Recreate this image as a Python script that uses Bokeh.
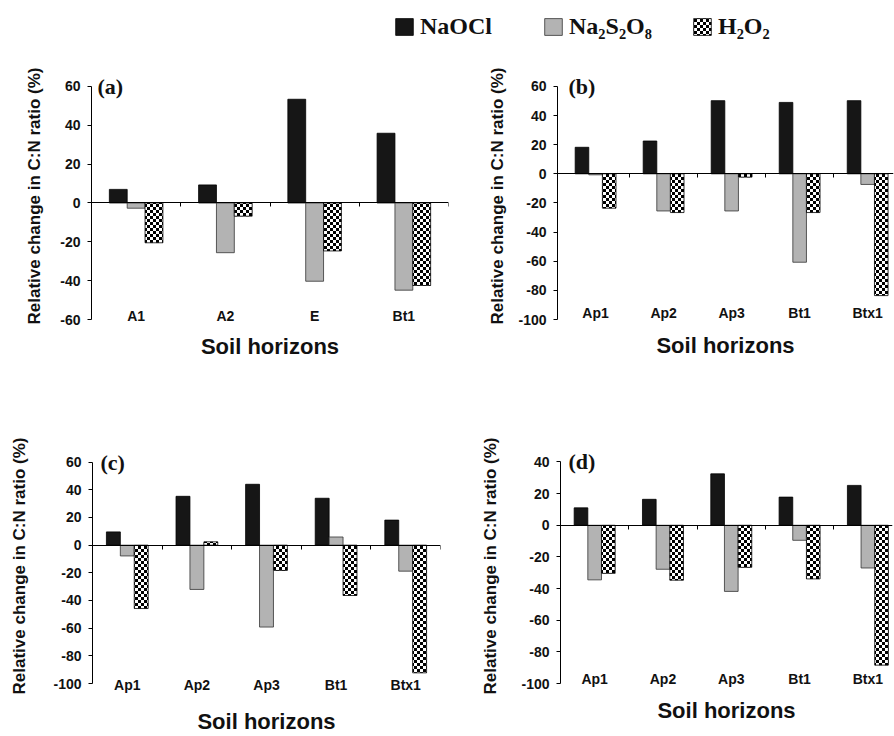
from bokeh.plotting import figure
from bokeh.models import (ColumnDataSource, Range1d, FixedTicker, CustomJSTickFormatter, LinearAxis,
                          Label, Legend, LegendItem, CanvasTexture)
from bokeh.layouts import column, row
from bokeh.transform import dodge
from bokeh.embed import file_html
from bokeh.resources import INLINE

# ---------------- data ----------------
series_names = ["NaOCl", "Na\u2082S\u2082O\u2088", "H\u2082O\u2082"]

cats_a = ["A1", "A2", "E", "Bt1"]
naocl_a = [7.0, 9.3, 53.4, 35.9]
na2s2o8_a = [-2.7, -25.6, -40.3, -44.9]
h2o2_a = [-20.5, -6.8, -24.7, -42.5]

cats_b = ["Ap1", "Ap2", "Ap3", "Bt1", "Btx1"]
naocl_b = [18.2, 22.5, 50.2, 49.0, 50.2]
na2s2o8_b = [-0.7, -25.5, -25.5, -60.7, -7.3]
h2o2_b = [-23.6, -26.6, -2.3, -26.6, -83.6]

cats_c = ["Ap1", "Ap2", "Ap3", "Bt1", "Btx1"]
naocl_c = [9.6, 35.3, 44.0, 33.9, 18.1]
na2s2o8_c = [-7.8, -32.0, -59.2, 5.9, -18.8]
h2o2_c = [-45.8, 2.4, -18.3, -36.4, -92.3]

cats_d = ["Ap1", "Ap2", "Ap3", "Bt1", "Btx1"]
naocl_d = [11.0, 16.4, 32.5, 17.8, 25.2]
na2s2o8_d = [-34.5, -27.8, -41.8, -9.5, -27.0]
h2o2_d = [-30.4, -34.7, -26.6, -33.9, -88.4]

y_ticks_a = [-60, -40, -20, 0, 20, 40, 60]
y_ticks_bc = [-100, -80, -60, -40, -20, 0, 20, 40, 60]
y_ticks_d = [-100, -80, -60, -40, -20, 0, 20, 40]

y_title = "Relative change in C:N ratio (%)"
x_title = "Soil horizons"

# ---------------- style ----------------
BLACK = "#161616"
GRAY = "#b3b3b3"
SANS = "Liberation Sans"
SERIF = "Liberation Serif"
TOP_PAD = 14  # px of free space above the top tick (room for the panel tag)

# checkerboard tile: 6x6 px, 3 px cells
CHECKER_JS = """
var cv = ctx.canvas;
cv.width = 6;
cv.height = 6;
ctx.fillStyle = '#ffffff';
ctx.fillRect(0, 0, 6, 6);
ctx.fillStyle = '#000000';
ctx.fillRect(0, 0, 3, 3);
ctx.fillRect(3, 3, 3, 3);
"""


def bar_styles():
    return [
        dict(fill_color=BLACK, line_color="#000000", line_width=0.8),
        dict(fill_color=GRAY, line_color="#333333", line_width=0.8),
        dict(fill_color="white", line_color="#000000", line_width=0.8,
             hatch_pattern="hatch_kind", hatch_scale=6,
             hatch_extra={"checker": CanvasTexture(code=CHECKER_JS)}),
    ]


def make_source(cats, s1, s2, s3):
    n = len(cats)
    return ColumnDataSource(dict(pos=[i + 0.5 for i in range(n)], s1=s1, s2=s2, s3=s3,
                                 hatch_kind=["checker"] * n))


def panel(tag, cats, s1, s2, s3, y_lo, y_hi, y_ticks, width, height, borders, core_h,
          ytitle_standoff, cat_standoff, xtitle_standoff, tag_dx, x_view=None):
    n = len(cats)
    src = make_source(cats, s1, s2, s3)
    left, right, top, bottom = borders
    y_end = y_hi + TOP_PAD * (y_hi - y_lo) / core_h
    x_start, x_end = (0, n) if x_view is None else x_view
    p = figure(width=width, height=height, x_range=Range1d(x_start, x_end),
               y_range=Range1d(y_lo, y_end),
               output_backend="svg", toolbar_location=None,
               min_border_left=left, min_border_right=right,
               min_border_top=top, min_border_bottom=bottom,
               outline_line_color=None, background_fill_color="white")
    p.xgrid.visible = False
    p.ygrid.visible = False

    for field, off, st in zip(["s1", "s2", "s3"], [-0.2, 0.0, 0.2], bar_styles()):
        p.vbar(x=dodge("pos", off), top=field, bottom=0, width=0.2, source=src, **st)

    # y axis
    ya = p.yaxis[0]
    ya.ticker = FixedTicker(ticks=y_ticks)
    ya.formatter = CustomJSTickFormatter(code="return tick.toString()")
    ya.bounds = (y_lo, y_hi)
    ya.axis_label = y_title
    ya.axis_label_text_font = SANS
    ya.axis_label_text_font_style = "bold"
    ya.axis_label_text_font_size = "17px"
    ya.axis_label_text_color = "#111111"
    ya.axis_label_standoff = ytitle_standoff
    ya.major_label_text_font = SANS
    ya.major_label_text_font_style = "bold"
    ya.major_label_text_font_size = "14px"
    ya.major_label_text_color = "#111111"
    ya.major_label_standoff = 7
    ya.major_tick_out = 4
    ya.major_tick_in = 0
    ya.minor_tick_line_color = None
    ya.axis_line_color = "#000000"
    ya.major_tick_line_color = "#000000"

    # category labels axis (bottom)
    xa = p.xaxis[0]
    xa.ticker = FixedTicker(ticks=[i + 0.5 for i in range(n)])
    xa.formatter = CustomJSTickFormatter(args=dict(labels=cats),
                                         code="return labels[Math.floor(tick)] || ''")
    xa.axis_line_color = None
    xa.major_tick_line_color = None
    xa.minor_tick_line_color = None
    xa.major_tick_out = 0
    xa.major_tick_in = 0
    xa.major_label_standoff = cat_standoff
    xa.major_label_text_font = SANS
    xa.major_label_text_font_style = "bold"
    xa.major_label_text_font_size = "14px"
    xa.major_label_text_color = "#111111"
    xa.axis_label = x_title
    xa.axis_label_text_font = SANS
    xa.axis_label_text_font_style = "bold"
    xa.axis_label_text_font_size = "22px"
    xa.axis_label_text_color = "#111111"
    xa.axis_label_standoff = xtitle_standoff

    # zero line with tick marks between categories (ticks point down)
    za = LinearAxis(ticker=FixedTicker(ticks=list(range(1, n + 1))), fixed_location=0,
                    formatter=CustomJSTickFormatter(code="return ''"),
                    major_tick_out=0, major_tick_in=4, minor_tick_line_color=None,
                    axis_line_color="#000000", major_tick_line_color="#000000",
                    major_label_standoff=0, major_label_text_font_size="1px")
    p.add_layout(za, "above")

    p.add_layout(Label(x=x_start, y=y_hi, text=tag, x_offset=tag_dx, text_baseline="middle",
                       text_font=SERIF, text_font_style="bold", text_font_size="22px",
                       text_color="#111111"))
    return p, src


pa, src_a = panel("(a)", cats_a, naocl_a, na2s2o8_a, h2o2_a, -60, 60, y_ticks_a,
                  456, 330, (91, 8, 30, 52), 234, 13, -12, 7, 6)
pb, src_b = panel("(b)", cats_b, naocl_b, na2s2o8_b, h2o2_b, -100, 60, y_ticks_bc,
                  438, 330, (101, 1, 28, 53), 235, 8, -15, 9, 11, x_view=(-0.06, 4.88))
pc, src_c = panel("(c)", cats_c, naocl_c, na2s2o8_c, h2o2_c, -100, 60, y_ticks_bc,
                  456, 364, (92, 16, 76, 47), 227, 21, -7, 13, 8)
pd, src_d = panel("(d)", cats_d, naocl_d, na2s2o8_d, h2o2_d, -100, 40, y_ticks_d,
                  438, 364, (104, 2, 72, 48), 230, 18, -13, 8, 8, x_view=(0.0, 4.86))

# ---------------- legend strip ----------------
n_a = len(cats_a)
leg = figure(width=894, height=42, x_range=Range1d(0, n_a), y_range=Range1d(0, 1),
             output_backend="svg", toolbar_location=None, min_border=0,
             x_axis_location=None, y_axis_location=None, outline_line_color=None)
leg.xgrid.visible = False
leg.ygrid.visible = False
items = []
for field, name, st in zip(["s1", "s2", "s3"], series_names, bar_styles()):
    r = leg.vbar(x="pos", top=field, bottom=0, width=0.2, source=src_a, visible=False, **st)
    items.append(LegendItem(label=name, renderers=[r]))
legend = Legend(items=items, location=(393, 2), orientation="horizontal",
                border_line_color=None, background_fill_alpha=0, padding=0, margin=0,
                spacing=0, label_standoff=5, glyph_width=22, glyph_height=21,
                label_width=122, label_height=21,
                inactive_fill_alpha=0,
                label_text_font=SERIF, label_text_font_style="bold",
                label_text_font_size="24px", label_text_color="#111111")
leg.add_layout(legend, "center")

layout = column(leg, row(pa, pb), row(pc, pd))
open("out.html", "w").write(file_html(layout, INLINE))
